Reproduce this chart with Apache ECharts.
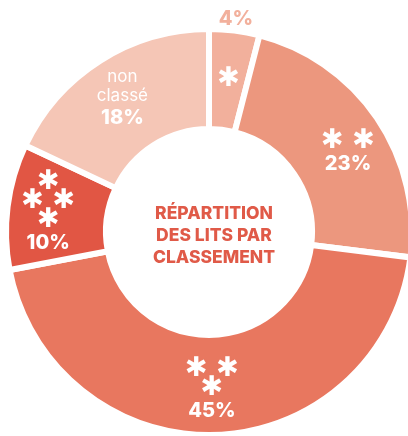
<!DOCTYPE html>
<html><head><meta charset="utf-8">
<script src="https://cdn.jsdelivr.net/npm/echarts@6/dist/echarts.min.js"></script>
<style>html,body{margin:0;padding:0;background:#fff}#c{width:408px;height:436px}</style>
</head><body><div id="c"></div>
<script>
var categories = ['✱', '✱✱', '✱✱✱', '✱✱✱✱', 'non classé'];
var values = [4, 23, 45, 10, 18];
var colors = ['#F2B09C', '#EC977E', '#E8775F', '#E15644', '#F5C6B6'];
var centerTitle = 'RÉPARTITION\nDES LITS PAR\nCLASSEMENT';

var FONT = 'Inter';
function starRows(n) {
  if (n === 1) return ['{s|✱}'];
  if (n === 2) return ['{s|✱ ✱}'];
  if (n === 3) return ['{s|✱ ✱}', '{s|✱}'];
  return ['{s|✱}', '{s|✱ ✱}', '{s|✱}'];
}
function innerLabel(p) {
  var name = p.name;
  if (name.indexOf('✱') === 0) {
    var rows = starRows(name.length);
    if (p.dataIndex === 0) return rows.join('\n');
    return rows.concat(['{p|' + p.value + '%}']).join('\n');
  }
  return '{n|non}\n{n|classé}\n{p|' + p.value + '%}';
}
var offsets = [[0, 2], [10, 10], [-2, 4], [-6, 2], [-3, -1]];
var data = categories.map(function (c, i) {
  return { name: c, value: values[i], itemStyle: { color: colors[i] }, label: { offset: offsets[i] } };
});
var outerData = categories.map(function (c, i) {
  return { name: c, value: values[i], label: { show: i === 0 } };
});

var chart = echarts.init(document.getElementById('c'));
chart.setOption({
  animation: false,
  title: {
    text: centerTitle,
    left: 209, top: 198, textAlign: 'center',
    textStyle: { color: '#E05A48', fontFamily: FONT, fontWeight: 800, fontSize: 17.5, lineHeight: 22 }
  },
  series: [{
    type: 'pie',
    center: [209, 232],
    radius: [103, 203],
    startAngle: 90,
    clockwise: true,
    silent: true,
    itemStyle: { borderColor: '#fff', borderWidth: 6 },
    label: {
      show: true, position: 'inside', formatter: innerLabel, color: '#fff',
      rich: {
        s: { fontFamily: 'DejaVu Sans', fontSize: 27, lineHeight: 19, color: '#fff', align: 'center' },
        p: { fontFamily: FONT, fontWeight: 800, fontSize: 20, lineHeight: 26, color: '#fff', align: 'center' },
        n: { fontFamily: FONT, fontWeight: 400, fontSize: 17, lineHeight: 19, color: '#fff', align: 'center' }
      }
    },
    labelLine: { show: false },
    data: data
  }, {
    type: 'pie',
    center: [209, 232],
    radius: [201.5, 222],
    startAngle: 90,
    clockwise: true,
    silent: true,
    itemStyle: { color: 'rgba(0,0,0,0)' },
    label: {
      position: 'inside', formatter: '{c}%', color: '#F2B09C',
      fontFamily: FONT, fontWeight: 800, fontSize: 20
    },
    labelLine: { show: false },
    data: outerData
  }]
});
</script></body></html>
